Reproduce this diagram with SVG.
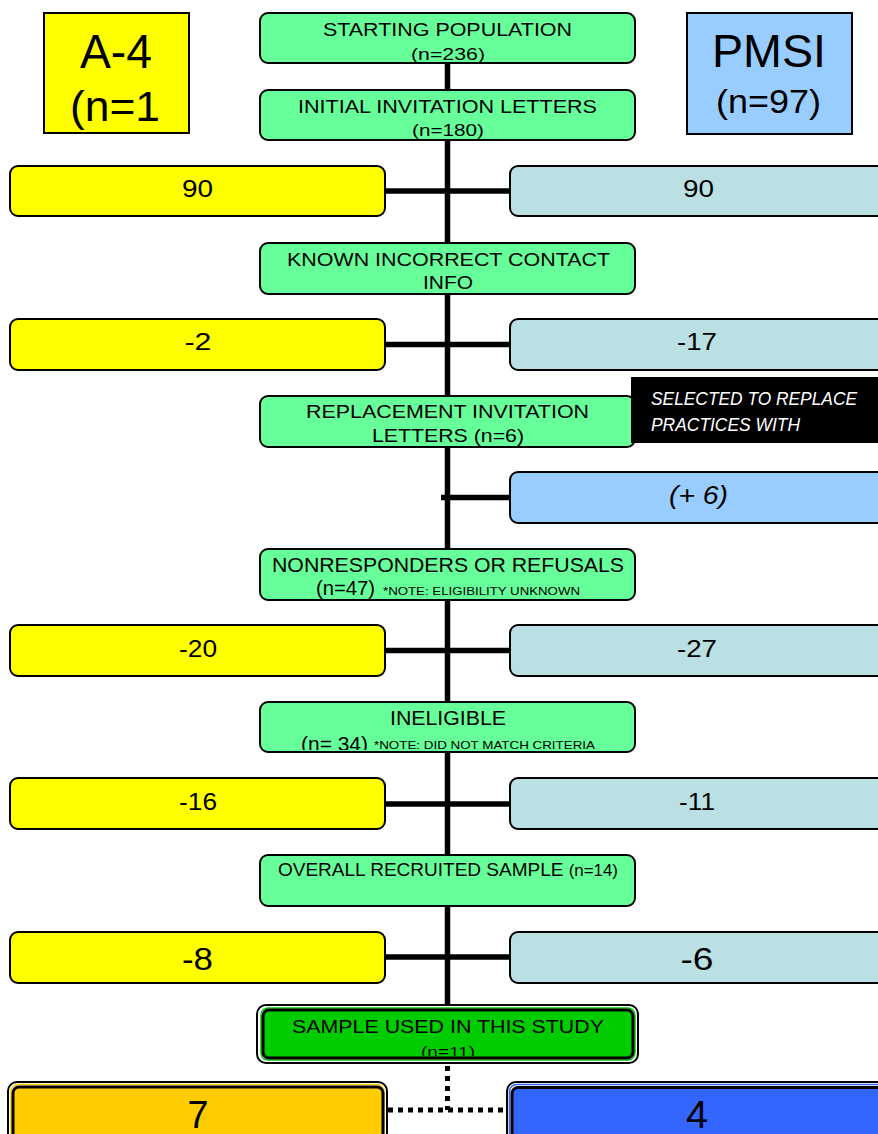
<svg xmlns="http://www.w3.org/2000/svg" width="878" height="1134" viewBox="0 0 878 1134">
<style>
text{font-family:"Liberation Sans",Arial,Helvetica,sans-serif;fill:#000;text-anchor:middle}
.bx{stroke:#000;stroke-width:2}
.g{fill:#66ff99}
.y{fill:#ffff00}
.lb{fill:#bbe0e3}
.bl{fill:#99ccff}
.ln{stroke:#000;stroke-width:5.5;fill:none}
.dot{stroke:#000;stroke-width:5;fill:none;stroke-dasharray:5 5}
.it{font-style:italic}
.outer{fill:#fff;stroke:#000;stroke-width:2}
</style>
<defs>
<clipPath id="clipInel"><rect x="260" y="702" width="375" height="48"/></clipPath>
<clipPath id="clipSample"><rect x="263" y="1010" width="370" height="46"/></clipPath>
</defs>
<rect width="878" height="1134" fill="#fff"/>

<g id="connectors">
<line class="ln" x1="447.5" y1="60" x2="447.5" y2="1008"/>
<line class="ln" x1="385" y1="191" x2="510" y2="191"/>
<line class="ln" x1="385" y1="344.5" x2="510" y2="344.5"/>
<line class="ln" x1="441" y1="497.5" x2="510" y2="497.5"/>
<line class="ln" x1="385" y1="650.5" x2="510" y2="650.5"/>
<line class="ln" x1="385" y1="804" x2="510" y2="804"/>
<line class="ln" x1="385" y1="957" x2="510" y2="957"/>
<line class="dot" x1="447.5" y1="1066" x2="447.5" y2="1110"/>
<line class="dot" x1="388" y1="1110" x2="508" y2="1110"/>
</g>

<g id="a4">
<rect class="bx" x="44" y="13" width="145" height="120" fill="#ffff00"/>
<text x="116" y="68" font-size="48" textLength="72" lengthAdjust="spacingAndGlyphs">A-4</text>
<text x="115" y="121" font-size="43" textLength="90" lengthAdjust="spacingAndGlyphs">(n=1</text>
</g>
<g id="pmsi">
<rect class="bx" x="687" y="13" width="165" height="121" fill="#99ccff"/>
<text x="769" y="67" font-size="47" textLength="114" lengthAdjust="spacingAndGlyphs">PMSI</text>
<text x="768.5" y="113" font-size="33" textLength="105" lengthAdjust="spacingAndGlyphs">(n=97)</text>
</g>

<g id="starting">
<rect class="bx g" x="260" y="13" width="375" height="50" rx="8"/>
<text x="447.5" y="36" font-size="18" textLength="249" lengthAdjust="spacingAndGlyphs">STARTING POPULATION</text>
<text x="448" y="59.5" font-size="16.5" textLength="74" lengthAdjust="spacingAndGlyphs">(n=236)</text>
</g>
<g id="initial">
<rect class="bx g" x="260" y="90" width="375" height="50" rx="8"/>
<text x="447.5" y="113" font-size="18" textLength="299" lengthAdjust="spacingAndGlyphs">INITIAL INVITATION LETTERS</text>
<text x="448" y="136" font-size="16.5" textLength="72" lengthAdjust="spacingAndGlyphs">(n=180)</text>
</g>
<g id="a4-initial">
<rect class="bx y" x="10" y="166" width="375" height="50" rx="8"/>
<text x="197.5" y="197" font-size="24" textLength="31" lengthAdjust="spacingAndGlyphs">90</text>
</g>
<g id="pmsi-initial">
<rect class="bx lb" x="510" y="166" width="380" height="50" rx="8"/>
<text x="698.5" y="197" font-size="24" textLength="31" lengthAdjust="spacingAndGlyphs">90</text>
</g>

<g id="incorrect">
<rect class="bx g" x="260" y="243" width="375" height="51" rx="8"/>
<text x="448.5" y="266" font-size="19" textLength="323" lengthAdjust="spacingAndGlyphs">KNOWN INCORRECT CONTACT</text>
<text x="448" y="289" font-size="19" textLength="50" lengthAdjust="spacingAndGlyphs">INFO</text>
</g>
<g id="a4-incorrect">
<rect class="bx y" x="10" y="319" width="375" height="51" rx="8"/>
<text x="198" y="350" font-size="24" textLength="27" lengthAdjust="spacingAndGlyphs">-2</text>
</g>
<g id="pmsi-incorrect">
<rect class="bx lb" x="510" y="319" width="380" height="51" rx="8"/>
<text x="697" y="350" font-size="24" textLength="40" lengthAdjust="spacingAndGlyphs">-17</text>
</g>

<g id="replacement">
<rect class="bx g" x="260" y="396" width="375" height="51" rx="8"/>
<text x="447.5" y="418" font-size="18.5" textLength="283" lengthAdjust="spacingAndGlyphs">REPLACEMENT INVITATION</text>
<text x="448" y="442" font-size="18.5" textLength="152" lengthAdjust="spacingAndGlyphs">LETTERS (n=6)</text>
</g>
<g id="selected-note">
<rect x="631" y="377" width="250" height="66" fill="#000"/>
<text class="it" x="651" y="405" font-size="19" style="text-anchor:start;fill:#fff" textLength="206" lengthAdjust="spacingAndGlyphs">SELECTED TO REPLACE</text>
<text class="it" x="651" y="431" font-size="19" style="text-anchor:start;fill:#fff" textLength="149" lengthAdjust="spacingAndGlyphs">PRACTICES WITH</text>
</g>
<g id="pmsi-replacement">
<rect class="bx bl" x="510" y="472" width="380" height="51" rx="8"/>
<text class="it" x="698.5" y="504" font-size="26" textLength="59" lengthAdjust="spacingAndGlyphs">(+ 6)</text>
</g>

<g id="nonresponders">
<rect class="bx g" x="260" y="549" width="375" height="51" rx="8"/>
<text x="448" y="572" font-size="21" textLength="352" lengthAdjust="spacingAndGlyphs">NONRESPONDERS OR REFUSALS</text>
<text x="345.5" y="595" font-size="20" textLength="59" lengthAdjust="spacingAndGlyphs">(n=47)</text>
<text x="481.5" y="595" font-size="11" textLength="197" lengthAdjust="spacingAndGlyphs">*NOTE: ELIGIBILITY UNKNOWN</text>
</g>
<g id="a4-nonresponders">
<rect class="bx y" x="10" y="625" width="375" height="51" rx="8"/>
<text x="198" y="657" font-size="24" textLength="38" lengthAdjust="spacingAndGlyphs">-20</text>
</g>
<g id="pmsi-nonresponders">
<rect class="bx lb" x="510" y="625" width="380" height="51" rx="8"/>
<text x="697" y="657" font-size="24" textLength="40" lengthAdjust="spacingAndGlyphs">-27</text>
</g>

<g id="ineligible">
<rect class="bx g" x="260" y="702" width="375" height="50" rx="8"/>
<text x="448" y="725" font-size="20.5" textLength="116" lengthAdjust="spacingAndGlyphs">INELIGIBLE</text>
<g clip-path="url(#clipInel)">
<text x="334.5" y="751" font-size="20" textLength="67" lengthAdjust="spacingAndGlyphs">(n= 34)</text>
<text x="484.5" y="749" font-size="11.5" textLength="221" lengthAdjust="spacingAndGlyphs">*NOTE: DID NOT MATCH CRITERIA</text>
</g>
</g>
<g id="a4-ineligible">
<rect class="bx y" x="10" y="778" width="375" height="51" rx="8"/>
<text x="198" y="810" font-size="24" textLength="38" lengthAdjust="spacingAndGlyphs">-16</text>
</g>
<g id="pmsi-ineligible">
<rect class="bx lb" x="510" y="778" width="380" height="51" rx="8"/>
<text x="697" y="810" font-size="24" textLength="36" lengthAdjust="spacingAndGlyphs">-11</text>
</g>

<g id="recruited">
<rect class="bx g" x="260" y="855" width="375" height="51" rx="8"/>
<text x="448" y="876" font-size="18" textLength="340" lengthAdjust="spacingAndGlyphs">OVERALL RECRUITED SAMPLE <tspan font-size="16">(n=14)</tspan></text>
</g>
<g id="a4-recruited">
<rect class="bx y" x="10" y="932" width="375" height="51" rx="8"/>
<text x="197.5" y="970" font-size="32" textLength="31" lengthAdjust="spacingAndGlyphs">-8</text>
</g>
<g id="pmsi-recruited">
<rect class="bx lb" x="510" y="932" width="380" height="51" rx="8"/>
<text x="697" y="970" font-size="32" textLength="33" lengthAdjust="spacingAndGlyphs">-6</text>
</g>

<g id="sample">
<rect class="outer" x="257" y="1005" width="381" height="58" rx="9"/>
<rect x="261" y="1008" width="374" height="52" rx="7" fill="none" stroke="#00cc00" stroke-width="1.5"/>
<rect x="263" y="1010" width="370" height="48" rx="6" fill="#00cc00" stroke="#000" stroke-width="3"/>
<text x="448" y="1033" font-size="19" textLength="312" lengthAdjust="spacingAndGlyphs">SAMPLE USED IN THIS STUDY</text>
<g clip-path="url(#clipSample)">
<text x="448" y="1057" font-size="15" textLength="54" lengthAdjust="spacingAndGlyphs">(n=11)</text>
</g>
</g>
<g id="a4-sample">
<rect class="outer" x="8" y="1082" width="379" height="60" rx="9"/>
<rect x="11" y="1084.5" width="373" height="56" rx="7" fill="none" stroke="#ffcc00" stroke-width="1.5"/>
<rect x="13" y="1087" width="370" height="52" rx="6" fill="#ffcc00" stroke="#000" stroke-width="3"/>
<text x="198" y="1128" font-size="39" textLength="21" lengthAdjust="spacingAndGlyphs">7</text>
</g>
<g id="pmsi-sample">
<rect class="outer" x="507" y="1082" width="390" height="60" rx="9"/>
<rect x="509.5" y="1084.5" width="385" height="56" rx="7" fill="none" stroke="#3366ff" stroke-width="1.5"/>
<rect x="512" y="1087.5" width="385" height="52" rx="6" fill="#3366ff" stroke="#000" stroke-width="3"/>
<text x="697" y="1128" font-size="39" textLength="22" lengthAdjust="spacingAndGlyphs">4</text>
</g>
</svg>
